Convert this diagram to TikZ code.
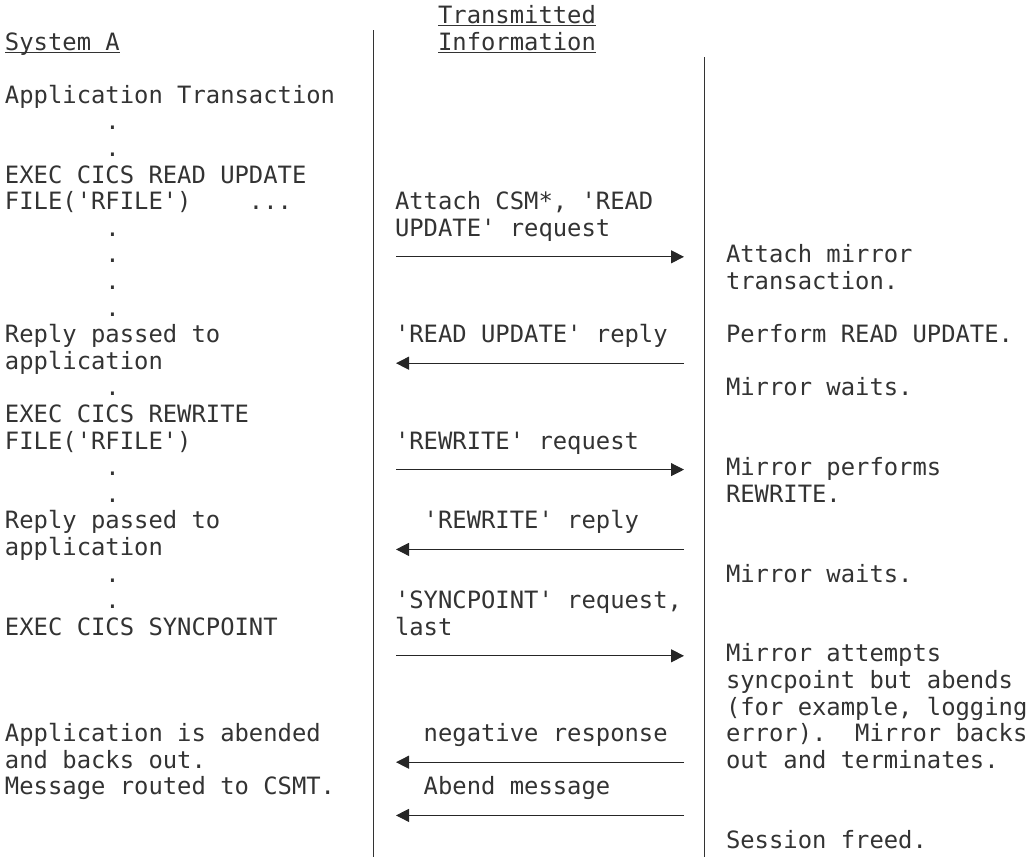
\documentclass[tikz,border=0pt]{standalone}
\usepackage{fontspec}
\setmonofont{DejaVu Sans Mono}
\usetikzlibrary{arrows.meta}
\newcommand\chw{14.35}
\newcommand\rowp{26.6}
\newcommand\basey{50}
\newcommand\colL{5}
\newcommand\colM{395}
\newcommand\colR{726}
\newcommand\txtrow[5]{\node[txt] (#1) at ({#2+#3*\chw},{\basey+#4*\rowp}) {#5};}
\newcommand\msgy[1]{{\basey+#1*\rowp-6}}
\begin{document}
\begin{tikzpicture}[x=1pt,y=-1pt,
  txt/.style={anchor=base west, inner sep=0pt, outer sep=0pt,
    font=\ttfamily\frenchspacing\fontsize{23.84}{26.6}\selectfont, text=black!80},
  uline/.style={line width=1pt, draw=black!80},
  vline/.style={line width=1.3pt, draw=black!80},
  msg/.style={line width=1pt, draw=black!85, -{Triangle[length=13pt,width=13pt]}}]
\useasboundingbox (0,0) rectangle (1033,857);
% column separators
\coordinate (vLt) at (373.5,30);
\coordinate (vLb) at (373.5,857);
\coordinate (vRt) at (704.5,57);
\coordinate (vRb) at (704.5,857);
\draw[vline] (vLt) -- (vLb);
\draw[vline] (vRt) -- (vRb);
% left column: System A
\txtrow{sysA}{\colL}{0}{0}{System A}
\draw[uline] ([yshift=-2.5pt]sysA.base west) -- ([yshift=-2.5pt]sysA.base east);
\txtrow{l2}{\colL}{0}{2}{Application Transaction}
\txtrow{l3}{\colL}{7}{3}{.}
\txtrow{l4}{\colL}{7}{4}{.}
\txtrow{l5}{\colL}{0}{5}{EXEC CICS READ UPDATE}
\txtrow{l6}{\colL}{0}{6}{FILE('RFILE')~~~~...}
\txtrow{l7}{\colL}{7}{7}{.}
\txtrow{l8}{\colL}{7}{8}{.}
\txtrow{l9}{\colL}{7}{9}{.}
\txtrow{l10}{\colL}{7}{10}{.}
\txtrow{l11}{\colL}{0}{11}{Reply passed to}
\txtrow{l12}{\colL}{0}{12}{application}
\txtrow{l13}{\colL}{7}{13}{.}
\txtrow{l14}{\colL}{0}{14}{EXEC CICS REWRITE}
\txtrow{l15}{\colL}{0}{15}{FILE('RFILE')}
\txtrow{l16}{\colL}{7}{16}{.}
\txtrow{l17}{\colL}{7}{17}{.}
\txtrow{l18}{\colL}{0}{18}{Reply passed to}
\txtrow{l19}{\colL}{0}{19}{application}
\txtrow{l20}{\colL}{7}{20}{.}
\txtrow{l21}{\colL}{7}{21}{.}
\txtrow{l22}{\colL}{0}{22}{EXEC CICS SYNCPOINT}
\txtrow{l26}{\colL}{0}{26}{Application is abended}
\txtrow{l27}{\colL}{0}{27}{and backs out.}
\txtrow{l28}{\colL}{0}{28}{Message routed to CSMT.}
% middle column: Transmitted Information
\txtrow{mT}{\colM}{3}{-1}{Transmitted}
\draw[uline] ([yshift=-2.5pt]mT.base west) -- ([yshift=-2.5pt]mT.base east);
\txtrow{mI}{\colM}{3}{0}{Information}
\draw[uline] ([yshift=-2.5pt]mI.base west) -- ([yshift=-2.5pt]mI.base east);
\txtrow{m6}{\colM}{0}{6}{Attach CSM*, 'READ}
\txtrow{m7}{\colM}{0}{7}{UPDATE' request}
\txtrow{m11}{\colM}{0}{11}{'READ UPDATE' reply}
\txtrow{m15}{\colM}{0}{15}{'REWRITE' request}
\txtrow{m18}{\colM}{2}{18}{'REWRITE' reply}
\txtrow{m21}{\colM}{0}{21}{'SYNCPOINT' request,}
\txtrow{m22}{\colM}{0}{22}{last}
\txtrow{m26}{\colM}{2}{26}{negative response}
\txtrow{m28}{\colM}{2}{28}{Abend message}
% message arrows
\coordinate (a1l) at (396,\msgy{8});  \coordinate (a1r) at (684,\msgy{8});
\coordinate (a2l) at (396,\msgy{12}); \coordinate (a2r) at (684,\msgy{12});
\coordinate (a3l) at (396,\msgy{16}); \coordinate (a3r) at (684,\msgy{16});
\coordinate (a4l) at (396,\msgy{19}); \coordinate (a4r) at (684,\msgy{19});
\coordinate (a5l) at (396,\msgy{23}); \coordinate (a5r) at (684,\msgy{23});
\coordinate (a6l) at (396,\msgy{27}); \coordinate (a6r) at (684,\msgy{27});
\coordinate (a7l) at (396,\msgy{29}); \coordinate (a7r) at (684,\msgy{29});
\draw[msg] (a1l) -- (a1r);
\draw[msg] (a2r) -- (a2l);
\draw[msg] (a3l) -- (a3r);
\draw[msg] (a4r) -- (a4l);
\draw[msg] (a5l) -- (a5r);
\draw[msg] (a6r) -- (a6l);
\draw[msg] (a7r) -- (a7l);
% right column: System B
\txtrow{r8}{\colR}{0}{8}{Attach mirror}
\txtrow{r9}{\colR}{0}{9}{transaction.}
\txtrow{r11}{\colR}{0}{11}{Perform READ UPDATE.}
\txtrow{r13}{\colR}{0}{13}{Mirror waits.}
\txtrow{r16}{\colR}{0}{16}{Mirror performs}
\txtrow{r17}{\colR}{0}{17}{REWRITE.}
\txtrow{r20}{\colR}{0}{20}{Mirror waits.}
\txtrow{r23}{\colR}{0}{23}{Mirror attempts}
\txtrow{r24}{\colR}{0}{24}{syncpoint but abends}
\txtrow{r25}{\colR}{0}{25}{(for example, logging}
\txtrow{r26}{\colR}{0}{26}{error).~~Mirror backs}
\txtrow{r27}{\colR}{0}{27}{out and terminates.}
\txtrow{r30}{\colR}{0}{30}{Session freed.}
\end{tikzpicture}
\end{document}
